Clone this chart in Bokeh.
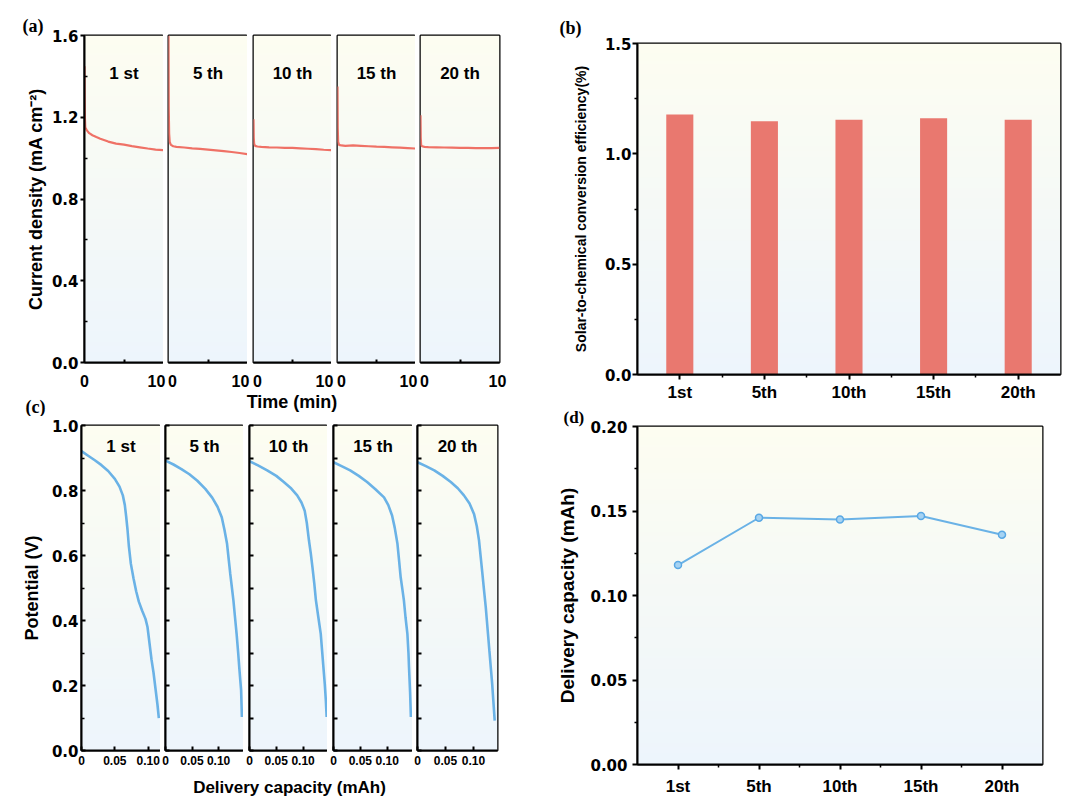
import numpy as np
from bokeh.plotting import figure
from bokeh.layouts import row, column
from bokeh.models import Range1d, FixedTicker, Label, NumeralTickFormatter
from bokeh.core.properties import value
from bokeh.embed import file_html
from bokeh.resources import INLINE

FONT = "Liberation Sans"
NUMFONT = "DejaVu Sans"
SERIF = "Liberation Serif"
RED = "#EF7166"
BAR = "#E9786F"
BLUE = "#6AB2E6"

# ---------------- data ----------------
cycle_labels = ["1 st", "5 th", "10 th", "15 th", "20 th"]
cycle_cats = ["1st", "5th", "10th", "15th", "20th"]

# (a) current density (mA cm-2) vs time (min)
a_t1 = [0, 0.02, 0.05, 0.1, 0.3, 0.6, 1, 1.5, 2, 3, 4, 5, 6, 7, 8, 9, 10]
a_j1 = [1.45, 1.30, 1.20, 1.15, 1.136, 1.122, 1.112, 1.103, 1.095, 1.081, 1.071, 1.066, 1.059, 1.053, 1.047, 1.042, 1.039]
a_t5 = [0, 0.03, 0.08, 0.15, 0.3, 0.6, 1, 2, 3, 4, 5, 6, 7, 8, 9, 10]
a_j5 = [1.60, 1.25, 1.12, 1.08, 1.065, 1.058, 1.055, 1.052, 1.048, 1.045, 1.042, 1.038, 1.034, 1.030, 1.025, 1.019]
a_t10 = [0, 0.03, 0.08, 0.2, 0.5, 1, 2, 3, 4, 5, 6, 7, 8, 9, 10]
a_j10 = [1.19, 1.10, 1.07, 1.06, 1.057, 1.055, 1.053, 1.052, 1.050, 1.050, 1.048, 1.046, 1.044, 1.041, 1.039]
a_t15 = [0, 0.03, 0.08, 0.2, 0.5, 1, 2, 3, 4, 5, 6, 7, 8, 9, 10]
a_j15 = [1.35, 1.15, 1.08, 1.065, 1.062, 1.060, 1.062, 1.060, 1.058, 1.056, 1.055, 1.053, 1.051, 1.049, 1.047]
a_t20 = [0, 0.03, 0.08, 0.2, 0.5, 1, 2, 3, 4, 5, 6, 7, 8, 9, 10]
a_j20 = [1.21, 1.10, 1.065, 1.058, 1.055, 1.054, 1.053, 1.052, 1.051, 1.050, 1.050, 1.049, 1.049, 1.049, 1.050]
a_times = [a_t1, a_t5, a_t10, a_t15, a_t20]
a_currents = [a_j1, a_j5, a_j10, a_j15, a_j20]

# (b) solar-to-chemical conversion efficiency (%)
b_eff = [1.178, 1.148, 1.155, 1.161, 1.155]

# (c) potential (V) vs delivery capacity (mAh)
c_q1 = [0, 0.01, 0.02, 0.03, 0.04, 0.05, 0.057, 0.062, 0.065, 0.067, 0.069, 0.071, 0.074, 0.078, 0.082,
        0.086, 0.091, 0.096, 0.099, 0.102, 0.105, 0.108, 0.111, 0.114, 0.116]
c_v1 = [0.921, 0.907, 0.893, 0.878, 0.860, 0.836, 0.812, 0.785, 0.755, 0.720, 0.680, 0.630, 0.575, 0.530, 0.490,
        0.458, 0.430, 0.405, 0.380, 0.330, 0.280, 0.240, 0.190, 0.140, 0.100]
c_q5 = [0, 0.015, 0.03, 0.045, 0.06, 0.075, 0.088, 0.098, 0.106, 0.111, 0.116, 0.119, 0.122, 0.125, 0.128,
        0.131, 0.134, 0.137, 0.139, 0.141, 0.1425, 0.144]
c_v5 = [0.892, 0.880, 0.866, 0.850, 0.830, 0.805, 0.778, 0.750, 0.718, 0.680, 0.636, 0.590, 0.544, 0.503, 0.462,
        0.410, 0.359, 0.300, 0.256, 0.215, 0.185, 0.103]
c_q10 = [0, 0.015, 0.033, 0.05, 0.064, 0.078, 0.089, 0.097, 0.103, 0.107, 0.111, 0.1145, 0.1175, 0.121, 0.124,
         0.1285, 0.133, 0.1355, 0.138, 0.1405, 0.1425, 0.144]
c_v10 = [0.890, 0.878, 0.862, 0.845, 0.826, 0.806, 0.785, 0.763, 0.738, 0.700, 0.646, 0.605, 0.564, 0.513, 0.462,
         0.410, 0.359, 0.307, 0.256, 0.205, 0.154, 0.103]
c_q15 = [0, 0.015, 0.031, 0.047, 0.0625, 0.078, 0.094, 0.102, 0.109, 0.114, 0.119, 0.122, 0.125, 0.128, 0.131,
         0.134, 0.1375, 0.1395, 0.1405, 0.1425, 0.144]
c_v15 = [0.887, 0.875, 0.862, 0.845, 0.826, 0.804, 0.779, 0.755, 0.723, 0.685, 0.636, 0.585, 0.533, 0.498, 0.462,
         0.410, 0.359, 0.300, 0.256, 0.180, 0.103]
c_q20 = [0, 0.015, 0.03, 0.045, 0.0595, 0.072, 0.083, 0.093, 0.101, 0.106, 0.110, 0.113, 0.116, 0.119, 0.122,
         0.124, 0.126, 0.1285, 0.131, 0.1335, 0.1355, 0.138]
c_v20 = [0.887, 0.875, 0.862, 0.845, 0.826, 0.807, 0.785, 0.760, 0.728, 0.690, 0.646, 0.595, 0.544, 0.492, 0.441,
         0.400, 0.359, 0.307, 0.256, 0.205, 0.154, 0.092]
c_caps = [c_q1, c_q5, c_q10, c_q15, c_q20]
c_pots = [c_v1, c_v5, c_v10, c_v15, c_v20]
c_xmax = [0.1185, 0.147, 0.1456, 0.147, 0.143]

# (d) delivery capacity (mAh)
d_cap = [0.118, 0.146, 0.145, 0.147, 0.136]

# axis ticks
a_yticks = [0.0, 0.4, 0.8, 1.2, 1.6]
a_yminor = [0.2, 0.6, 1.0, 1.4]
c_yticks = [0.0, 0.2, 0.4, 0.6, 0.8, 1.0]
c_yminor = [0.1, 0.3, 0.5, 0.7, 0.9]
c_xticks = [0.0, 0.05, 0.10]
b_yticks = [0.0, 0.5, 1.0, 1.5]
b_yminor = [0.25, 0.75, 1.25]
d_yticks = [0.0, 0.05, 0.10, 0.15, 0.20]
d_yminor = [0.025, 0.075, 0.125, 0.175]

# ---------------- helpers ----------------
def gradient(n=96):
    top = np.array([253, 253, 241], dtype=float)
    bot = np.array([237, 245, 252], dtype=float)
    img = np.zeros((n, 2), dtype=np.uint32)
    view = img.view(dtype=np.uint8).reshape((n, 2, 4))
    for i in range(n):
        f = i / (n - 1)
        c = bot + (top - bot) * f
        view[i, :, 0] = int(round(c[0]))
        view[i, :, 1] = int(round(c[1]))
        view[i, :, 2] = int(round(c[2]))
        view[i, :, 3] = 255
    return img

GRAD = gradient()


def base_fig(fw, fh, xr, yr, bl, br, bt, bb, grad=True):
    p = figure(frame_width=fw, frame_height=fh, x_range=Range1d(*xr), y_range=Range1d(*yr),
               output_backend="svg", toolbar_location=None,
               min_border_left=bl, min_border_right=br, min_border_top=bt, min_border_bottom=bb)
    p.xgrid.visible = False
    p.ygrid.visible = False
    p.outline_line_color = "black"
    p.outline_line_width = 2
    p.outline_line_alpha = 1.0
    p.border_fill_color = "white"
    p.background_fill_color = "white"
    if grad:
        p.image_rgba(image=[GRAD], x=xr[0], y=yr[0], dw=xr[1] - xr[0], dh=yr[1] - yr[0], level="image")
    for ax in p.axis:
        ax.axis_line_width = 2
        ax.axis_line_color = "black"
        ax.major_tick_line_width = 2
        ax.minor_tick_line_width = 1.5
        ax.major_tick_line_color = "black"
        ax.minor_tick_line_color = "black"
        ax.major_label_text_font = NUMFONT
        ax.major_label_text_font_style = "bold"
        ax.major_label_text_color = "black"
        ax.axis_label_text_font = FONT
        ax.axis_label_text_font_style = "bold"
        ax.axis_label_text_color = "black"
    return p


def ticks_only(ax, ticks, length_in, length_out=0):
    # axis without labels: every tick drawn as a (label-free) minor tick
    ax.ticker = FixedTicker(ticks=[], minor_ticks=list(ticks))
    ax.minor_tick_in = length_in
    ax.minor_tick_out = length_out
    ax.minor_tick_line_width = 2
    ax.major_label_standoff = 0


def panel_title(p, text, offset, standoff, size="18px"):
    p.title.text = text
    p.title.align = "left"
    p.title.offset = offset
    p.title.standoff = standoff
    p.title.vertical_align = "bottom"
    p.title.text_font = SERIF
    p.title.text_font_style = "bold"
    p.title.text_font_size = size
    p.title.text_color = "black"

# ---------------- (a) ----------------
a_w = [79, 79, 78, 78, 79]
a_gap = [0, 5, 6, 6, 5]
a_figs = []
a_left = []
pos = 0
for k in range(5):
    pos += a_gap[k]
    a_left.append(pos)
    bl = 84 if k == 0 else a_gap[k]
    br = 12 if k == 4 else 0
    p = base_fig(a_w[k], 327, (0, 10), (0, 1.6), bl, br, 35, 9)
    p.line(a_times[k], a_currents[k], line_color=RED, line_width=2.2)
    p.text(x=[5], y=[1.415], text=[cycle_labels[k]], text_font=value(FONT), text_font_style="bold",
           text_font_size="17px", text_align="center", text_baseline="middle", text_color="black")
    ticks_only(p.xaxis[0], [5], 3)
    ya = p.yaxis[0]
    if k == 0:
        ya.ticker = FixedTicker(ticks=a_yticks, minor_ticks=a_yminor)
        ya.formatter = NumeralTickFormatter(format="0.0")
        ya.major_tick_out = 4
        ya.major_tick_in = 0
        ya.minor_tick_in = 3
        ya.minor_tick_out = 0
        ya.major_label_text_font_size = "15px"
        ya.major_label_standoff = 2
        ya.axis_label = "Current density (mA cm\u207b\u00b2)"
        ya.axis_label_text_font_size = "18px"
        ya.axis_label_standoff = 3
        panel_title(p, "(a)", -62, 0)
    else:
        ya.visible = False
    a_figs.append(p)
    pos += a_w[k]
a_total = pos

# panel letter (c) sits to the left of the (a) x-axis title strip
c_tag = figure(frame_width=74, frame_height=45, x_range=Range1d(0, 74), y_range=Range1d(0, 45),
               output_backend="svg", toolbar_location=None,
               min_border_left=0, min_border_right=0, min_border_top=0, min_border_bottom=0)
c_tag.axis.visible = False
c_tag.grid.visible = False
c_tag.outline_line_color = None
c_tag.add_layout(Label(x=25, y=0, x_units="screen", y_units="screen", text="(c)",
                       text_font=SERIF, text_font_style="bold", text_font_size="18px",
                       text_align="left", text_baseline="bottom", text_color="black"))

# strip with (a) tick labels and axis title
strip_a = base_fig(a_total, 1, (0, a_total), (0, 1), 10, 12, 0, 44, grad=False)
strip_a.outline_line_color = None
strip_a.yaxis.visible = False
sa = strip_a.xaxis[0]
ticks = []
over = {}
for k in range(5):
    for t, lab in ((0, "0"), (10, "10")):
        px = a_left[k] + (t - 0) / 10 * a_w[k]
        if t == 0 and k > 0:
            px += 4
        if t == 10:
            px -= 7 if k < 4 else 2
        px = float(px)
        ticks.append(px)
        over[px] = lab
sa.ticker = FixedTicker(ticks=ticks)
sa.major_label_overrides = over
sa.axis_line_color = None
sa.major_tick_line_color = None
sa.minor_tick_line_color = None
sa.major_tick_out = 0
sa.major_tick_in = 0
sa.major_label_standoff = 2
sa.major_label_text_font = FONT
sa.major_label_text_font_size = "16px"
sa.axis_label = "Time (min)"
sa.axis_label_text_font_size = "18px"
sa.axis_label_standoff = 2

# ---------------- (c) ----------------
c_w = [79, 78, 78, 79, 80]
c_gap = [0, 5, 6, 6, 5]
c_figs = []
for k in range(5):
    bl = 81 if k == 0 else c_gap[k]
    br = 14 if k == 4 else 0
    p = base_fig(c_w[k], 325, (0, c_xmax[k]), (0, 1.0), bl, br, 9, 20)
    p.line(c_caps[k], c_pots[k], line_color=BLUE, line_width=2.6)
    p.text(x=[c_xmax[k] / 2], y=[0.936], text=[cycle_labels[k]], text_font=value(FONT), text_font_style="bold",
           text_font_size="17px", text_align="center", text_baseline="middle", text_color="black")
    xa = p.xaxis[0]
    xa.ticker = FixedTicker(ticks=c_xticks)
    xa.formatter = NumeralTickFormatter(format="0.00")
    xa.major_label_overrides = {0: "0"}
    xa.major_tick_in = 4
    xa.major_tick_out = 0
    xa.major_label_text_font = FONT
    xa.major_label_text_font_size = "12px"
    xa.major_label_standoff = 5
    ya = p.yaxis[0]
    if k == 0:
        ya.ticker = FixedTicker(ticks=c_yticks, minor_ticks=c_yminor)
        ya.formatter = NumeralTickFormatter(format="0.0")
        ya.major_tick_in = 4
        ya.major_tick_out = 0
        ya.minor_tick_in = 3
        ya.minor_tick_out = 0
        ya.major_label_text_font_size = "15px"
        ya.major_label_standoff = 3
        ya.axis_label = "Potential (V)"
        ya.axis_label_text_font_size = "18px"
        ya.axis_label_standoff = 7
    else:
        ticks_only(ya, c_yticks + c_yminor, 4)
    c_figs.append(p)

c_total = sum(c_w) + sum(c_gap)
strip_c = base_fig(c_total, 1, (0, c_total), (0, 1), 81, 14, 0, 26, grad=False)
strip_c.outline_line_color = None
strip_c.yaxis.visible = False
sc = strip_c.xaxis[0]
sc.ticker = FixedTicker(ticks=[], minor_ticks=[])
sc.axis_line_color = None
sc.major_tick_line_color = None
sc.minor_tick_line_color = None
sc.major_tick_out = 0
sc.major_label_standoff = 0
sc.axis_label = "Delivery capacity (mAh)"
sc.axis_label_text_font_size = "17px"
sc.axis_label_standoff = 6

# ---------------- (b) ----------------
xs = list(range(1, len(cycle_cats) + 1))
cat_over = {x: c for x, c in zip(xs, cycle_cats)}
cat_minor = [x + 0.5 for x in xs[:-1]]

pb = base_fig(423, 331, (0.5, 5.5), (0, 1.5), 119, 10, 43, 28)
pb.vbar(x=xs, top=b_eff, width=0.32, fill_color=BAR, line_color=None)
xa = pb.xaxis[0]
xa.ticker = FixedTicker(ticks=xs, minor_ticks=cat_minor)
xa.major_label_overrides = cat_over
xa.major_tick_out = 5
xa.major_tick_in = 0
xa.minor_tick_out = 3
xa.minor_tick_in = 0
xa.major_label_text_font = FONT
xa.major_label_text_font_size = "17px"
xa.major_label_standoff = 3
ya = pb.yaxis[0]
ya.ticker = FixedTicker(ticks=b_yticks, minor_ticks=b_yminor)
ya.formatter = NumeralTickFormatter(format="0.0")
ya.major_tick_out = 5
ya.major_tick_in = 0
ya.minor_tick_out = 3
ya.minor_tick_in = 0
ya.major_label_text_font_size = "15px"
ya.major_label_standoff = 1
ya.axis_label = "Solar-to-chemical conversion efficiency(%)"
ya.axis_label_text_font_size = "14px"
ya.axis_label_standoff = 13
panel_title(pb, "(b)", -78, 12)

# ---------------- (d) ----------------
pd_ = base_fig(405, 338, (0.5, 5.5), (0, 0.20), 126, 21, 22, 32)
pd_.line(xs, d_cap, line_color=BLUE, line_width=2)
pd_.scatter(xs, d_cap, marker="circle", size=7, fill_color="#A6D3F3", line_color="#5AA8E4", line_width=1.5)
xa = pd_.xaxis[0]
xa.ticker = FixedTicker(ticks=xs, minor_ticks=cat_minor)
xa.major_label_overrides = cat_over
xa.major_tick_out = 5
xa.major_tick_in = 0
xa.minor_tick_out = 3
xa.minor_tick_in = 0
xa.major_label_text_font = FONT
xa.major_label_text_font_size = "17px"
xa.major_label_standoff = 7
ya = pd_.yaxis[0]
ya.ticker = FixedTicker(ticks=d_yticks, minor_ticks=d_yminor)
ya.formatter = NumeralTickFormatter(format="0.00")
ya.major_tick_out = 5
ya.major_tick_in = 0
ya.minor_tick_out = 3
ya.minor_tick_in = 0
ya.major_label_text_font_size = "15px"
ya.major_label_standoff = 5
ya.axis_label = "Delivery capacity (mAh)"
ya.axis_label_text_font_size = "19px"
ya.axis_label_standoff = 9
panel_title(pd_, "(d)", -74, 0, size="17px")

left = column(row(*a_figs), row(c_tag, strip_a), row(*c_figs), strip_c)
right = column(pb, pd_)
layout = row(left, right)

open("out.html", "w").write(file_html(layout, INLINE))
